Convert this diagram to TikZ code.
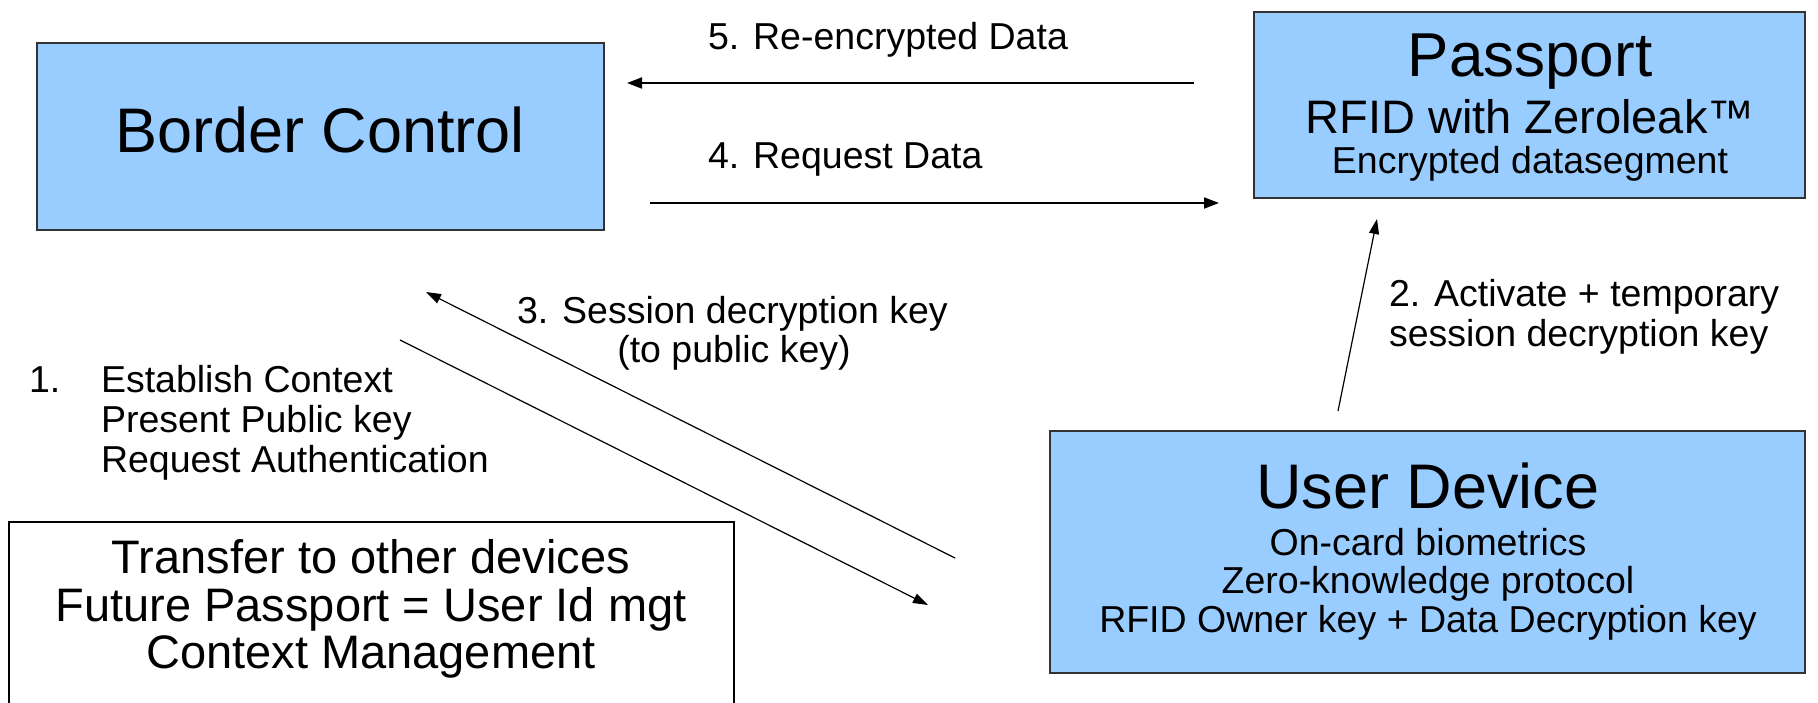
\documentclass[tikz,border=0pt]{standalone}
\usepackage{fontspec}
\setmainfont{Liberation Sans}
\usetikzlibrary{arrows.meta}
\definecolor{boxblue}{HTML}{99CCFF}
\definecolor{boxline}{HTML}{333333}
\tikzset{
  bluebox/.style={draw=boxline, line width=1.6pt, fill=boxblue, inner sep=0pt, outer sep=0pt},
  whitebox/.style={draw=black, line width=1.6pt, fill=white, inner sep=0pt, outer sep=0pt},
  txt/.style={inner sep=0pt, outer sep=0pt, anchor=base, text=black},
  txtl/.style={txt, anchor=base west},
  big/.style={font=\fontsize{63}{70}\selectfont},
  mid/.style={font=\fontsize{47}{52}\selectfont},
  small/.style={font=\fontsize{37.5}{42}\selectfont},
  thick arrow/.style={line width=2pt, -{Triangle[length=15pt,width=11pt]}},
  thin arrow/.style={line width=1.2pt, -{Triangle[length=15pt,width=10pt]}},
}
\begin{document}
\begin{tikzpicture}[x=1pt,y=-1pt]
\useasboundingbox (0,0) rectangle (1818,702);
\begin{scope}
\clip (0,0) rectangle (1818,702);
\fill[white] (0,0) rectangle (1818,702);

% boxes
\node[bluebox, minimum width=567pt, minimum height=187pt] (bc) at (320.5,136.5) {};
\node[bluebox, minimum width=551pt, minimum height=186pt] (pp) at (1529.5,105) {};
\node[bluebox, minimum width=755pt, minimum height=242pt] (ud) at (1427.5,552) {};
\node[whitebox, minimum width=725pt, minimum height=220pt] (tr) at (371.5,632) {};

% box texts
\node[txt, big] (bct) at (320,152) {Border Control};
\node[txt, font=\fontsize{62}{70}\selectfont] (ppt1) at (1530,76) {Passport};
\node[txt, mid] (ppt2) at (1530,133) {RFID with Zeroleak™};
\node[txt, small] (ppt3) at (1530,173) {Encrypted datasegment};
\node[txt, big] (udt1) at (1428,508) {User Device};
\node[txt, small] (udt2) at (1428,555) {On-card biometrics};
\node[txt, small] (udt3) at (1428,593) {Zero-knowledge protocol};
\node[txt, small] (udt4) at (1428,632) {RFID Owner key + Data Decryption key};
\node[txt, mid] (trt1) at (371,573) {Transfer to other devices};
\node[txt, mid] (trt2) at (371,621) {Future Passport = User Id mgt};
\node[txt, mid] (trt3) at (371,668) {Context Management};

% connector labels
\node[txtl, small] (l5) at (708,49) {5. Re-encrypted Data};
\node[txtl, small] (l4) at (708,168) {4. Request Data};
\node[txtl, small] (l3a) at (517,323) {3. Session decryption key};
\node[txt, small] (l3b) at (734,362) {(to public key)};
\node[txtl, small] (l2a) at (1389,306) {2. Activate + temporary};
\node[txtl, small] (l2b) at (1389,346) {session decryption key};
\node[txtl, small] (l1n) at (29,392) {1.};
\node[txtl, small] (l1a) at (101,392) {Establish Context};
\node[txtl, small] (l1b) at (101,432) {Present Public key};
\node[txtl, small] (l1c) at (101,472) {Request Authentication};

% connector end points
\coordinate (a5s) at (1194,83);
\coordinate (a5e) at (627,83);
\coordinate (a4s) at (650,203);
\coordinate (a4e) at (1219,203);
\coordinate (a2s) at (1338,411);
\coordinate (a2e) at (1377,219);
\coordinate (a3s) at (955,558);
\coordinate (a3e) at (426,292);
\coordinate (a1s) at (400,340);
\coordinate (a1e) at (928,605);

% connectors
\draw[thick arrow] (a5s) -- (a5e);
\draw[thick arrow] (a4s) -- (a4e);
\draw[thin arrow] (a2s) -- (a2e);
\draw[thin arrow] (a3s) -- (a3e);
\draw[thin arrow] (a1s) -- (a1e);
\end{scope}
\end{tikzpicture}
\end{document}
